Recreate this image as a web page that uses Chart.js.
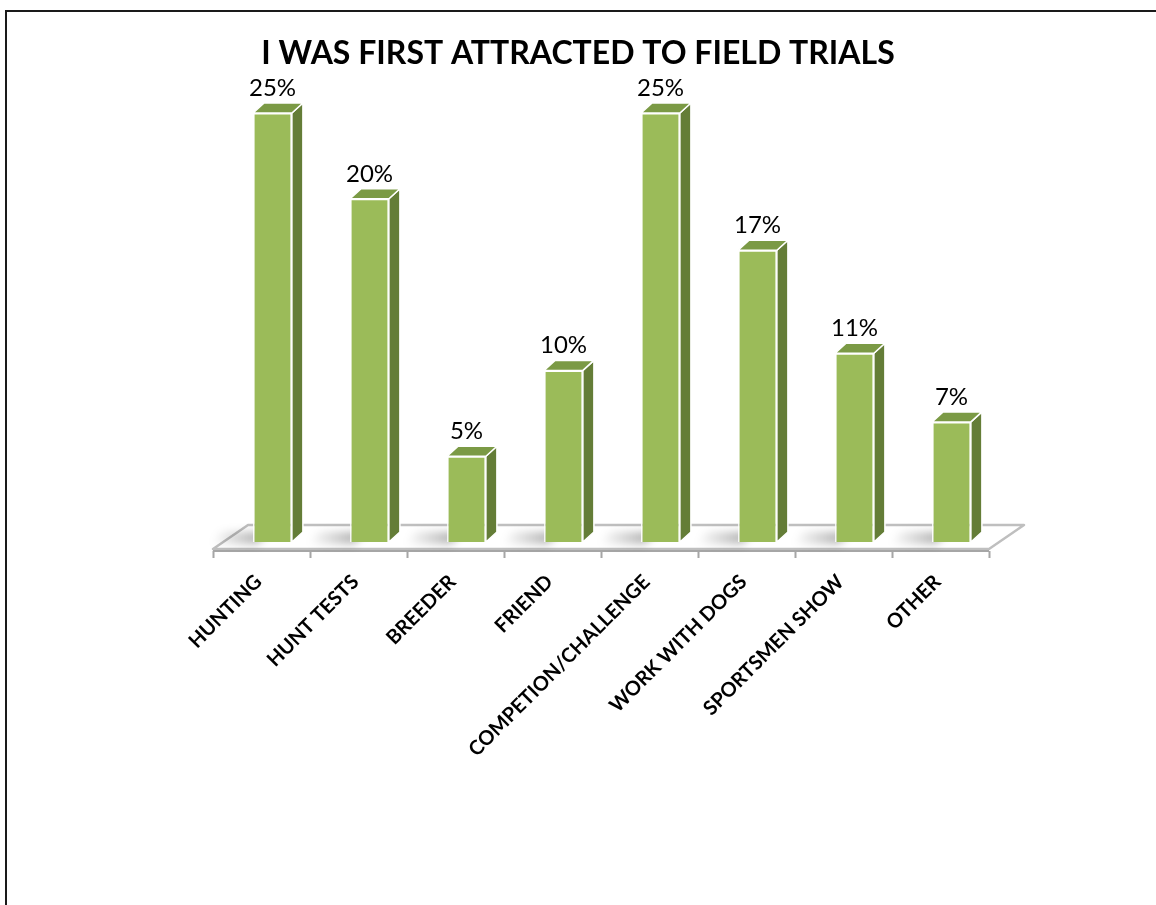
<!DOCTYPE html>
<html lang="en">
<head>
<meta charset="UTF-8">
<meta name="viewport" content="width=device-width, initial-scale=1.0">
<title>I Was First Attracted to Field Trials</title>

<!-- Load Chart.js -->
<script src="https://cdn.jsdelivr.net/npm/chart.js@4.4.1/dist/chart.umd.min.js"></script>

<style>
    html, body { margin: 0; padding: 0; background: #fff; }
    .chart-container {
        position: relative;
        width: 1156px;
        height: 905px;
        overflow: hidden;
    }
    /* thin frame around the slide, only top and left edges are on screen */
    .frame {
        position: absolute;
        left: 5px; top: 10px; right: -20px; bottom: -20px;
        border-top: 2px solid #1a1a1a;
        border-left: 2px solid #1a1a1a;
        pointer-events: none;
    }
</style>
</head>
<body>
<div class="chart-container">
    <canvas id="myChart"></canvas>
    <div class="frame"></div>
</div>

<script>
    // Data
    const chartTitle = 'I WAS FIRST ATTRACTED TO FIELD TRIALS';
    const categories = ['HUNTING', 'HUNT TESTS', 'BREEDER', 'FRIEND', 'COMPETION/CHALLENGE', 'WORK WITH DOGS', 'SPORTSMEN SHOW', 'OTHER'];
    const percentages = [25, 20, 5, 10, 25, 17, 11, 7];

    // Colours for the fake 3D bars
    const FRONT = '#9BBB59';
    const SIDE = '#647D37';
    const TOP = '#7B9A45';
    const FLOOR_LINE = '#BFBFBF';

    // Depth of the bars and the floor slab (pixels)
    const BAR_DX = 11, BAR_DY = 10;
    const FLOOR_DX = 35, FLOOR_DY = 24;
    const FLOOR_SHIFT_X = 11, FLOOR_SHIFT_Y = 7;

    // Draws the floor, bar shadows, bar sides/tops, value labels and title
    const bar3d = {
        id: 'bar3d',
        beforeDatasetsDraw(chart) {
            const { ctx, scales: { x, y } } = chart;
            const base = y.getPixelForValue(0);
            const fx0 = x.left - FLOOR_SHIFT_X;
            const fx1 = x.right - FLOOR_SHIFT_X;
            const fy = base + FLOOR_SHIFT_Y;

            ctx.save();
            // floor plane
            ctx.beginPath();
            ctx.moveTo(fx0, fy);
            ctx.lineTo(fx1, fy);
            ctx.lineTo(fx1 + FLOOR_DX, fy - FLOOR_DY);
            ctx.lineTo(fx0 + FLOOR_DX, fy - FLOOR_DY);
            ctx.closePath();
            ctx.fillStyle = '#fff';
            ctx.fill();
            ctx.strokeStyle = FLOOR_LINE;
            ctx.lineWidth = 2.5;
            ctx.lineJoin = 'round';
            ctx.stroke();

            // front edge of the slab
            ctx.beginPath();
            ctx.moveTo(fx0, fy + 2);
            ctx.lineTo(fx1, fy + 2);
            ctx.strokeStyle = '#A6A6A6';
            ctx.lineWidth = 2;
            ctx.stroke();

            // category tick marks
            const step = (x.right - x.left) / categories.length;
            ctx.beginPath();
            for (let i = 0; i <= categories.length; i++) {
                const tx = Math.round(fx0 + i * step) + 0.5;
                ctx.moveTo(tx, fy + 2);
                ctx.lineTo(tx, fy + 9);
            }
            ctx.strokeStyle = '#A6A6A6';
            ctx.lineWidth = 2;
            ctx.stroke();

            // soft shadows on the floor, to the left of each bar
            ctx.filter = 'blur(4px)';
            chart.getDatasetMeta(0).data.forEach(bar => {
                const left = bar.x - bar.width / 2;
                const grad = ctx.createLinearGradient(left - 42, 0, left + 4, 0);
                grad.addColorStop(0, 'rgba(0,0,0,0)');
                grad.addColorStop(1, 'rgba(0,0,0,0.3)');
                ctx.beginPath();
                ctx.moveTo(left + 4, base + 2);
                ctx.lineTo(left - 42, base + 2);
                ctx.lineTo(left - 42 + BAR_DX, base - BAR_DY);
                ctx.lineTo(left + 4 + BAR_DX, base - BAR_DY);
                ctx.closePath();
                ctx.fillStyle = grad;
                ctx.fill();
            });
            ctx.restore();
        },
        afterDatasetsDraw(chart) {
            const { ctx, scales: { y } } = chart;
            const base = y.getPixelForValue(0);
            ctx.save();
            ctx.lineWidth = 1.5;
            ctx.strokeStyle = '#fff';
            ctx.lineJoin = 'round';
            chart.getDatasetMeta(0).data.forEach((bar, i) => {
                const l = bar.x - bar.width / 2;
                const r = bar.x + bar.width / 2;
                const t = bar.y;

                // right side
                ctx.beginPath();
                ctx.moveTo(r, t);
                ctx.lineTo(r + BAR_DX, t - BAR_DY);
                ctx.lineTo(r + BAR_DX, base - BAR_DY);
                ctx.lineTo(r, base);
                ctx.closePath();
                ctx.fillStyle = SIDE;
                ctx.fill();
                ctx.stroke();

                // top
                ctx.beginPath();
                ctx.moveTo(l, t);
                ctx.lineTo(l + BAR_DX, t - BAR_DY);
                ctx.lineTo(r + BAR_DX, t - BAR_DY);
                ctx.lineTo(r, t);
                ctx.closePath();
                ctx.fillStyle = TOP;
                ctx.fill();
                ctx.stroke();

                // value label
                ctx.fillStyle = '#000';
                ctx.font = '24px Lato';
                ctx.textAlign = 'center';
                ctx.textBaseline = 'alphabetic';
                ctx.fillText(percentages[i] + '%', bar.x, t - 17);
            });
            ctx.restore();
        },
        afterDraw(chart) {
            const { ctx } = chart;
            ctx.save();
            ctx.fillStyle = '#000';
            ctx.font = 'bold 32px Lato';
            ctx.textAlign = 'center';
            ctx.textBaseline = 'middle';
            ctx.fillText(chartTitle, chart.width / 2, 54);
            ctx.restore();
        }
    };

    const ctx = document.getElementById('myChart').getContext('2d');
    const myChart = new Chart(ctx, {
        type: 'bar',
        data: {
            labels: categories,
            datasets: [{
                data: percentages,
                backgroundColor: FRONT,
                borderColor: '#fff',
                borderWidth: 1.5,
                barPercentage: 0.4,
                categoryPercentage: 1
            }]
        },
        options: {
            responsive: true,
            maintainAspectRatio: false,
            animation: false,
            layout: {
                padding: { left: 224, right: 156, top: 113, bottom: 0 }
            },
            plugins: {
                legend: { display: false },
                tooltip: { enabled: false }
            },
            scales: {
                x: {
                    grid: { display: false, drawTicks: false },
                    border: { display: false },
                    ticks: {
                        autoSkip: false,
                        minRotation: 45,
                        maxRotation: 45,
                        labelOffset: -14,
                        padding: 28,
                        color: '#000',
                        font: { family: 'Lato', weight: 'bold', size: 20 }
                    },
                    afterFit: function(scale) {
                        scale.height = 363;
                    }
                },
                y: {
                    display: false,
                    min: 0,
                    max: 25
                }
            }
        },
        plugins: [bar3d]
    });
</script>
</body>
</html>
